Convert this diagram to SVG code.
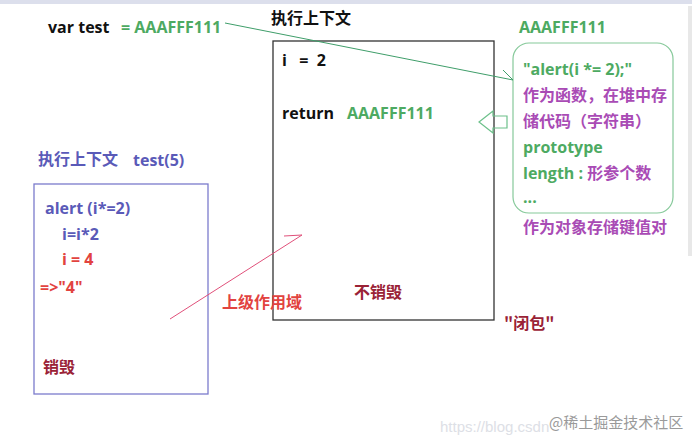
<svg xmlns="http://www.w3.org/2000/svg" width="692" height="444" viewBox="0 0 692 444">
<style>
text{font-family:"Open Sans","Noto Sans CJK SC",sans-serif;font-weight:bold;font-size:16px}
.k{fill:#111}
.g{fill:#4daa62}
.p{fill:#a94bb5}
.b{fill:#5a5ab8}
.r{fill:#e2433f}
.d{fill:#9a2236}
.cn{font-family:"Noto Sans CJK SC",sans-serif}
</style>
<rect x="0" y="0" width="692" height="444" fill="#fff"/>
<rect x="0" y="0" width="692" height="4" fill="#dcdfec"/>
<rect x="688" y="6" width="4" height="250" fill="#e8e8e8"/>

<g id="var-test">
<text class="k" x="48" y="33">var test</text>
<text class="g" x="121" y="33">= AAAFFF111</text>
</g>

<g id="outer-context">
<text class="k cn" x="271" y="24">执行上下文</text>
<rect x="273" y="41" width="221" height="279" fill="none" stroke="#333" stroke-width="1.3"/>
<text class="k" x="282" y="66" xml:space="preserve">i   =  2</text>
<text class="k" x="282" y="119">return</text>
<text class="g" x="347" y="119">AAAFFF111</text>
<text class="d cn" x="354" y="298">不销毁</text>
</g>

<g id="closure-label">
<text class="d cn" x="504" y="329">"闭包"</text>
</g>

<g id="heap-object">
<text class="g" x="519" y="33">AAAFFF111</text>
<rect x="513" y="43" width="160" height="170" rx="16" fill="none" stroke="#86c99a" stroke-width="1.2"/>
<text class="g" x="523" y="75">"alert(i *= 2);"</text>
<text class="p cn" x="523" y="101">作为函数，在堆中存</text>
<text class="p cn" x="523" y="127">储代码（字符串）</text>
<text class="g" x="523" y="153">prototype</text>
<text x="523" y="179"><tspan class="g">length : </tspan><tspan class="p cn">形参个数</tspan></text>
<text class="g" x="523" y="203">...</text>
<text class="p cn" x="523" y="233">作为对象存储键值对</text>
</g>

<g id="inner-context">
<text class="b cn" x="38" y="165">执行上下文</text>
<text class="b" x="133" y="166">test(5)</text>
<rect x="34" y="184" width="174" height="210" fill="none" stroke="#7b7bcc" stroke-width="1.3"/>
<text class="b" x="45" y="214">alert (i*=2)</text>
<text class="b" x="62" y="240">i=i*2</text>
<text class="r" x="62" y="265">i = 4</text>
<text class="r" x="40" y="293">=&gt;"4"</text>
<text class="d cn" x="43" y="373">销毁</text>
</g>

<g id="scope-label">
<text class="r cn" x="222" y="308">上级作用域</text>
</g>

<g id="connectors" fill="none">
<path d="M225,23 L513,80 L503,70" stroke="#3f9e6a" stroke-width="1"/>
<path d="M170,319 L302,235 L284,236" stroke="#e0507a" stroke-width="1"/>
<path d="M479,122 L493,111 L493,116 L507,116 L507,128 L493,128 L493,133 Z" stroke="#6cc08a" stroke-width="1.2"/>
</g>

<g id="watermark">
<text x="440" y="432" style="font-family:'Liberation Sans',sans-serif;font-weight:normal;font-size:15px;fill:#dde0e6">https://blog.csdn</text>
<text x="549" y="428" style="font-family:'Noto Sans CJK SC',sans-serif;font-weight:normal;font-size:15px;fill:#9a9a9a">@稀土掘金技术社区</text>
</g>
</svg>
